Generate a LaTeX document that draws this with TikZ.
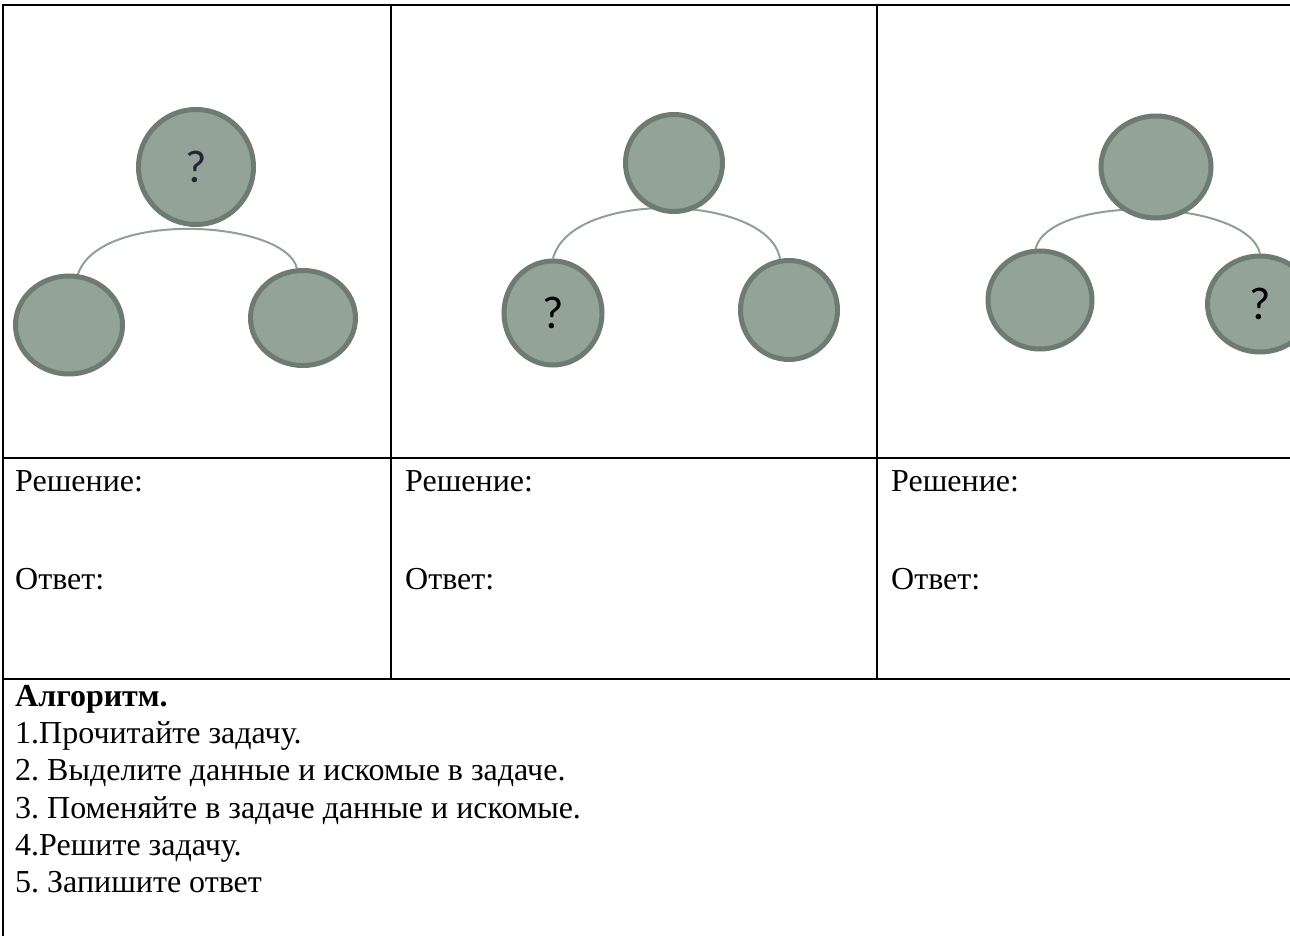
\documentclass[tikz,border=0pt]{standalone}
\usepackage{fontspec}
\setmainfont{Liberation Serif}
\newfontfamily\qfont{Carlito}
\usetikzlibrary{shapes.geometric}
\definecolor{cfill}{HTML}{93A398}
\definecolor{cborder}{HTML}{6E7B71}
\definecolor{carc}{HTML}{8FA096}
\definecolor{qdark}{HTML}{262636}
\pgfdeclarelayer{bg}
\pgfsetlayers{bg,main}
\frenchspacing
\tikzset{
  circ/.style={ellipse, fill=cfill, draw=cborder, line width=5pt, inner sep=0pt},
  arcline/.style={draw=carc, line width=2pt},
  rule/.style={draw=black, line width=2pt},
  celltext/.style={anchor=base west, inner sep=0pt, font=\fontsize{32}{37}\selectfont},
  boldtext/.style={celltext, font=\fontsize{32}{37}\selectfont\bfseries},
  qmark/.style={font=\qfont\fontsize{46}{50}\selectfont}
}
\begin{document}
\begin{tikzpicture}[x=1pt,y=-1pt]
\useasboundingbox (0,0) rectangle (1290,936);
\clip (0,0) rectangle (1290,936);

% panel 1
\node[circ, minimum width=115pt, minimum height=115pt, qmark, text=qdark] (t1) at (196,167) {?};
\node[circ, minimum width=107pt, minimum height=98pt] (l1) at (69,325) {};
\node[circ, minimum width=105pt, minimum height=95pt] (r1) at (303,318) {};
% panel 2
\node[circ, minimum width=97pt, minimum height=97pt] (t2) at (674,163) {};
\node[circ, minimum width=98pt, minimum height=104pt, qmark] (l2) at (553,313) {?};
\node[circ, minimum width=97pt, minimum height=99pt] (r2) at (789,310) {};
% panel 3
\node[circ, minimum width=110pt, minimum height=102pt] (t3) at (1156,167) {};
\node[circ, minimum width=104pt, minimum height=98pt] (l3) at (1040,300) {};
\node[circ, minimum width=105pt, minimum height=96pt, qmark] (r3) at (1260,304) {?};

\begin{pgfonlayer}{bg}
\draw[arcline] (l1.80) .. controls +(22,-65) and +(-11,-48) .. (r1.97);
\draw[arcline] (l2.north) .. controls +(18,-70) and +(-11,-65) .. (r2.100);
\draw[arcline] (l3.95) .. controls +(15,-56) and +(-13,-55) .. (r3.north);
\end{pgfonlayer}

% table rules
\draw[rule] (1290,5.5) -- (3,5.5) -- (3,936);
\draw[rule] (3,458) -- (1290,458);
\draw[rule] (3,679) -- (1290,679);
\draw[rule] (391,5.5) -- (391,679);
\draw[rule] (877,5.5) -- (877,679);

% cell texts
\node[celltext] (sol1) at (15,491) {Решение:};
\node[celltext] (ans1) at (15,589) {Ответ:};
\node[celltext] (sol2) at (405,491) {Решение:};
\node[celltext] (ans2) at (405,589) {Ответ:};
\node[celltext] (sol3) at (891,491) {Решение:};
\node[celltext] (ans3) at (891,589) {Ответ:};

% algorithm
\node[boldtext] (alg) at (15,706) {Алгоритм.};
\node[celltext] (s1) at (15,743) {1.Прочитайте задачу.};
\node[celltext] (s2) at (15,780) {2. Выделите данные и искомые в задаче.};
\node[celltext] (s3) at (15,818) {3. Поменяйте в задаче данные и искомые.};
\node[celltext] (s4) at (15,855) {4.Решите задачу.};
\node[celltext] (s5) at (15,892) {5. Запишите ответ};
\end{tikzpicture}
\end{document}
